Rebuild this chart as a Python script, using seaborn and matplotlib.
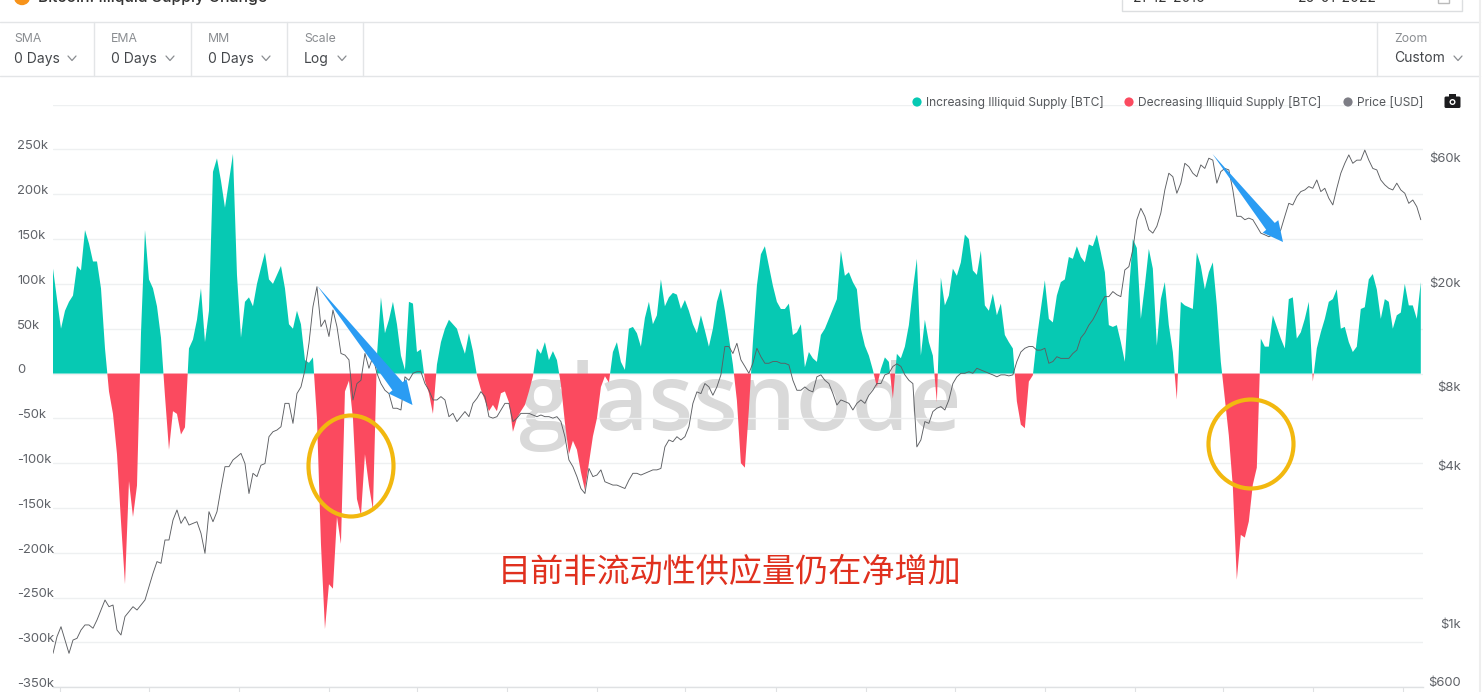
import numpy as np
import pandas as pd
import matplotlib
matplotlib.use("Agg")
import matplotlib.pyplot as plt
import matplotlib.dates as mdates
from matplotlib.patches import Ellipse, Polygon, Rectangle, FancyBboxPatch, Circle
from matplotlib.transforms import ScaledTranslation
import seaborn as sns

# ---------------- data ----------------
supply_k = [
 117,83,50,70,80,87,120,115,160,145,125,125,95,28,
 -20,-45,-90,-165,-235,-120,-160,-125,
 45,160,105,95,75,40,
 -25,-85,-42,-45,-68,-60,
 28,38,60,95,35,70,225,240,215,185,215,245,110,40,80,85,75,100,118,135,105,100,110,120,95,55,50,70,55,15,12,18,
 -50,-190,-285,-235,-240,-160,-190,-20,-8,-50,-140,-158,-90,-125,-152,
 20,85,45,60,80,55,20,4,80,78,24,27,-8,-22,-45,10,35,50,60,55,50,35,22,45,25,-2,
 -18,-30,-42,-35,-42,-22,-20,-32,-65,-50,-42,-35,-20,-3,
 28,22,35,15,25,15,
 -12,-55,-90,-75,-85,-110,-130,-100,-70,-50,-15,-3,-10,
 24,35,13,4,50,52,45,30,62,80,55,65,105,75,85,90,88,72,82,70,55,45,65,48,30,50,80,95,70,40,10,
 -30,-100,-105,-40,
 35,98,133,142,120,98,80,72,72,78,43,46,55,7,24,17,13,43,50,61,72,83,137,109,113,102,94,50,31,20,4,
 -15,5,18,13,-28,22,17,30,54,94,128,20,60,35,20,-32,107,76,87,117,109,124,155,150,115,110,
 137,76,70,89,65,78,43,35,28,
 -31 ,-57,-61,-9,-2,
 39,72,104,61,57,87,102,105,130,128,142,130,124,144,142,155,135,113,54,52,54,35,13,91,150,140,61,98,139,117,31,83,102,54,24,-29,
 80,76,74,72,135,120,94,113,124,76,13,
 -28,-69,-126,-230,-180,-183,-165,-124,-105,
 39,30,30,65,52,39,28,83,85,39,46,61,80,-9,
 28,46,61,80,83,94,50,52,35,24,30,72,74,105,111,94,61,83,80,50,65,68,100,76,76,61,102,
]

price_usd = [
 766,887,968,861,766,861,874,940,983,983,955,1027,1121,1224,1154,1171,940,900,1058,1105,1154,1121,1171,1224,1376,1547,
 1715,1690,2074,2074,2470,2700,2400,2545,2365,2400,2435,2200,1845,2660,2435,2660,3260,3950,3950,4190,4310,4440,4060,3120,
 3726,3620,4000,4060,5140,5370,5450,5610,6890,6890,5780,7510,7960,9240,11680,16120,19200,13520,14340,12400,15650,13520,
 10680,10530,10100,7100,8200,8440,10680,9380,10380,8973,8200,7730,7510,6600,6600,6500,8700,8440,8973,9100,9100,8200,7730,
 7100,7100,7310,7100,6130,6310,5870,6130,6410,6130,6890,7200,
 7640,7310,6130,6050,6130,6500,6890,6890,5870,6050,6310,6310,6310,6220,6130,6220,6130,6130,6050,6130,5870,5140,4190,3950,
 3620,3260,3120,3890,3620,3670,3840,3460,3410,3360,3360,3310,3260,3510,3726,3726,3670,3726,3780,3840,3840,3890,4700,4995,
 4920,5140,4995,5140,5610,6890,7620,7510,8200,7960,7400,7960,8850,11350,11350,10680,11680,10100,9530,8973,9800,11180,10380,
 9800,9800,9950,9950,9800,9800,9660,8440,7730,7730,7960,7730,7620,8700,8850,8440,8200,7510,6790,7100,7000,6890,6500,6890,
 7100,6890,7400,7730,8200,8200,8850,8973,9530,9750,9530,8850,8440,8200,4700,4995,5870,5780,6410,6600,6695,6500,7100,8200,
 8700,8973,8973,9100,8973,9380,
 9240,9100,8973,8850,8700,8850,8850,8770,8850,9950,10820,11180,11350,11350,11000,11000,11180,9800,9950,10380,10230,10230,
 10230,10680,11000,12250,12800,13700,14370,15350,16600,17600,17600,18400,17900,17600,22250,22900,26500,
 34600,38250,35650,31700,30750,32650,36700,44950,52050,50500,43650,47700,56800,55150,52050,50500,56000,54300,59400,58400,
 47700,52800,54300,53600,44950,35650,35650,34600,35100,34600,32650,30750,30300,29800,30300,29800,31700,35650,39950,39400,
 42400,44300,44950,46300,45600,49050,44300,45600,41800,39400,45600,52050,56800,61150,56800,58400,58400,63800,58400,54300,
 53600,49050,47000,45600,44950,47700,44950,43650,39950,41150,38800,34600,
]

left_tick_values = [250, 200, 150, 100, 50, 0, -50, -100, -150, -200, -250, -300, -350]
left_tick_labels = ["250k","200k","150k","100k","50k","0","-50k","-100k","-150k","-200k","-250k","-300k","-350k"]
right_tick_values = [600, 1000, 4000, 8000, 20000, 60000]
right_tick_labels = ["$600","$1k","$4k","$8k","$20k","$60k"]
series_names = ["Increasing Illiquid Supply [BTC]", "Decreasing Illiquid Supply [BTC]", "Price [USD]"]
toolbar_titles = ["SMA", "EMA", "MM", "Scale"]
toolbar_values = ["0 Days", "0 Days", "0 Days", "Log"]
note_text = "目前非流动性供应量仍在净增加"

TEAL, RED, GREY_DOT = "#06c9b3", "#fb4a5f", "#7d7d85"
W, H = 1482, 692

sns.set_theme(style="white")
plt.rcParams["font.family"] = ["Inter", "DejaVu Sans"]

dates_supply = pd.date_range("2016-12-22", "2022-01-25", periods=len(supply_k))
dates_price = pd.date_range("2016-12-22", "2022-01-25", periods=len(price_usd))
df_supply = pd.DataFrame({"x": mdates.date2num(dates_supply), "supply": supply_k})
df_price = pd.DataFrame({"x": mdates.date2num(dates_price), "price": price_usd})

fig = plt.figure(figsize=(W / 100, H / 100), dpi=100, facecolor="white")
L, R, T, B = 53, 1423, 104.6, 687.3
ax = fig.add_axes([L / W, 1 - B / H, (R - L) / W, (B - T) / H])

# watermark below the areas
ax.text(740 / W, 1 - 430 / H, "glassnode", transform=fig.transFigure, ha="center", va="baseline",
        family="Open Sans", weight="semibold", fontsize=66, color="#d9d9d9", zorder=0.5, clip_on=False)

xs, ys = df_supply["x"].to_numpy(), df_supply["supply"].to_numpy(float)
ax.fill_between(xs, ys, 0, where=ys >= 0, interpolate=True, color=TEAL, linewidth=0, zorder=2)
ax.fill_between(xs, ys, 0, where=ys <= 0, interpolate=True, color=RED, linewidth=0, zorder=2)

x0 = mdates.date2num(pd.Timestamp("2016-12-22"))
ax.set_xlim(x0, x0 + 1863)
ax.set_ylim(-350, 300)
ax.set_xlabel("")
ax.set_ylabel("")
ax.patch.set_visible(False)
for s in ["top", "left", "right"]:
    ax.spines[s].set_visible(False)
ax.spines["bottom"].set_color("#dfe1e3")
ax.spines["bottom"].set_linewidth(1)

grid_vals = sorted(left_tick_values + [300])
ax.set_yticks(grid_vals)
ax.grid(axis="y", color="#eef0f1", linewidth=1)
ax.set_axisbelow(True)
labs = dict(zip(left_tick_values, left_tick_labels))
ax.set_yticklabels([labs.get(v, "") for v in grid_vals])
ax.tick_params(axis="y", length=0, pad=25.9, labelsize=9.4, labelcolor="#5f6268")
up = ScaledTranslation(0, 3.2 / 100, fig.dpi_scale_trans)
for t in ax.get_yticklabels():
    t.set_ha("left")
    t.set_va("center")
    t.set_transform(t.get_transform() + up)

ax.set_xticks(mdates.date2num(pd.date_range("2017-01-01", "2022-01-01", freq="4MS")))
ax.tick_params(axis="x", length=4, width=0.8, color="#dfe1e3", labelbottom=False, bottom=True)

ax2 = ax.twinx()
ax2.set_yscale("log")
sns.lineplot(data=df_price, x="x", y="price", estimator=None, color="#5c5e62", linewidth=0.65, ax=ax2, zorder=3)
ax2.set_xlim(ax.get_xlim())
ax2.set_ylim(1000 * np.exp((623 - B) / 113.8), 1000 * np.exp((623 - T) / 113.8))
ax2.set_yticks(right_tick_values)
ax2.set_yticklabels(right_tick_labels)
ax2.yaxis.set_minor_locator(matplotlib.ticker.NullLocator())
ax2.tick_params(axis="y", length=0, pad=27.4, labelsize=9.4, labelcolor="#5f6268", right=False)
for t in ax2.get_yticklabels():
    t.set_ha("right")
ax2.set_xlabel("")
ax2.set_ylabel("")
ax2.grid(False)
ax2.patch.set_visible(False)
for s in ax2.spines.values():
    s.set_visible(False)

# overlay in image pixels for the page chrome and hand-drawn annotations
ov = fig.add_axes([0, 0, 1, 1], zorder=10)
ov.set_xlim(0, W)
ov.set_ylim(H, 0)
ov.axis("off")
ov.patch.set_visible(False)

LINE = "#e3e5e7"
for y in (22, 76):
    ov.plot([0, 1480], [y, y], color=LINE, lw=1)
for x in (94, 191, 287, 363, 1377):
    ov.plot([x, x], [22, 76], color=LINE, lw=1)
ov.plot([1480, 1480], [0, 692], color="#eeeeee", lw=1.5)

# page title, cut by the top edge as in the screenshot
ov.add_patch(Circle((22, -3), 7.5, color="#f7931a", clip_on=True))
ov.text(38, -2.5, "Bitcoin: Illiquid Supply Change", fontsize=11.4, weight="medium", color="#333", va="center")
# date box, cut by the top edge
ov.plot([1121.5, 1121.5, 1462, 1462], [0, 11, 11, 0], color="#dcdee0", lw=1)
ov.text(1133, -2.5, "21-12-2016", fontsize=10, color="#333", va="center")
ov.text(1298, -2.5, "26-01-2022", fontsize=10, color="#333", va="center")
ov.add_patch(Rectangle((1438, -6), 11, 9, fc="none", ec="#bbbbbb", lw=1))

chev_x = [72, 170, 266, 342]
for x, tt, tv, cx in zip((14, 111, 208, 304), toolbar_titles, toolbar_values, chev_x):
    ov.text(x, 39.5, tt, fontsize=8.8, color="#8a8d91", va="center")
    ov.text(x, 58.5, tv, fontsize=10, color="#44474b", va="center")
    ov.plot([cx - 4, cx, cx + 4], [56, 60.5, 56], color="#8a8d91", lw=0.9)
ov.text(1394, 39.5, "Zoom", fontsize=8.8, color="#8a8d91", va="center")
ov.text(1394, 58.5, "Custom", fontsize=10, color="#44474b", va="center")
ov.plot([1454, 1458, 1462], [56, 60.5, 56], color="#8a8d91", lw=0.9)

# legend
for cx, tx, name, c in zip((917, 1129, 1348), (925.5, 1138.5, 1357), series_names, (TEAL, RED, GREY_DOT)):
    ov.add_patch(Circle((cx, 102), 4.6, color=c, lw=0))
    ov.text(tx, 102.7, name, fontsize=8.65, color="#55585c", va="center")
# camera icon
ov.add_patch(FancyBboxPatch((1444.5, 96.5), 16, 11.5, boxstyle="round,pad=0,rounding_size=1.5", fc="#1c1c1e", ec="none"))
ov.add_patch(Rectangle((1449, 94), 7, 3, fc="#1c1c1e", ec="none"))
ov.add_patch(Circle((1452.5, 102), 3, fc="white", ec="none"))
ov.add_patch(Circle((1452.5, 102), 1.6, fc="#1c1c1e", ec="none"))

# blue arrows
def arrow(tail, tip, shaft=13, hl=24, hw=23, color="#2a9cf3"):
    tail, tip = np.array(tail, float), np.array(tip, float)
    d = tip - tail
    d /= np.hypot(*d)
    n = np.array([-d[1], d[0]])
    base = tip - d * hl
    pts = [tail, base + n * shaft / 2, base + n * hw / 2, tip, base - n * hw / 2, base - n * shaft / 2]
    ov.add_patch(Polygon(pts, closed=True, fc=color, ec="none"))
arrow((317.5, 286), (412.5, 405))
arrow((1212.5, 154), (1283, 242), shaft=11, hl=20, hw=20)

# yellow circles
ov.add_patch(Ellipse((351, 466), 85, 101, fc="none", ec="#f2b80f", lw=3))
ov.add_patch(Ellipse((1251, 444), 85, 89, fc="none", ec="#f2b80f", lw=3))

# note
ov.text(730, 572, note_text, family=["Noto Sans CJK SC", "DejaVu Sans"], fontsize=23.9, color="#e0301e",
        ha="center", va="center")

fig.savefig("out.png", dpi=100, facecolor="white")
